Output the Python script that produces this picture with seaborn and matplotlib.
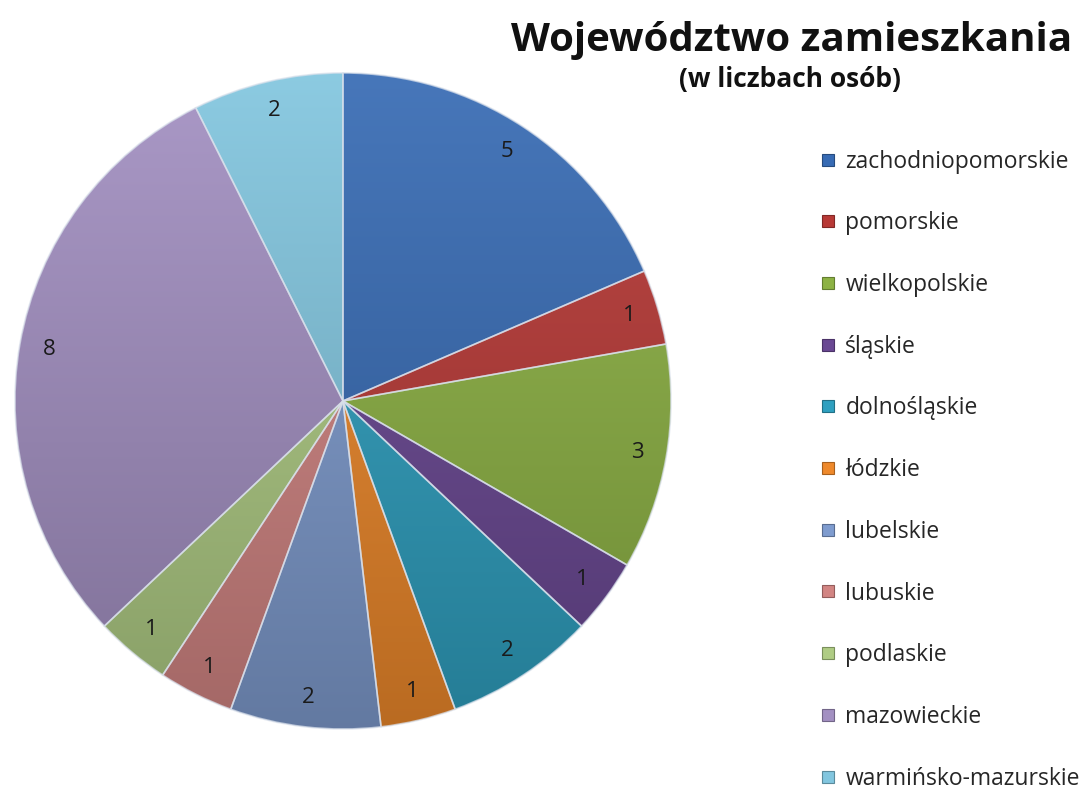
import numpy as np
import matplotlib.pyplot as plt
import matplotlib.colors as mcolors
from matplotlib.lines import Line2D
import seaborn as sns

# dane
regions = ["zachodniopomorskie", "pomorskie", "wielkopolskie", "śląskie",
           "dolnośląskie", "łódzkie", "lubelskie", "lubuskie", "podlaskie",
           "mazowieckie", "warmińsko-mazurskie"]
counts = [5, 1, 3, 1, 2, 1, 2, 1, 1, 8, 2]
colors = ["#376BB4", "#B83936", "#8DB244", "#6A4893", "#2FA0C0", "#EE892B",
          "#7F9CCF", "#D28583", "#AFCC84", "#A390C2", "#82C6DF"]

title = "Województwo zamieszkania"
subtitle = "(w liczbach osób)"

sns.set_theme(style="white")
plt.rcParams['font.family'] = ['Open Sans', 'DejaVu Sans']

fig = plt.figure(figsize=(10.84, 7.89), dpi=100)
ax = fig.add_axes([0.0129, 0.0748, 0.607, 0.834])

total = sum(counts)
wedges, _, autotexts = ax.pie(
    counts, colors=colors, startangle=90, counterclock=False,
    autopct=lambda p: f"{p * total / 100:.0f}", pctdistance=0.91,
    wedgeprops=dict(edgecolor=(0.85, 0.88, 0.92, 0.7), linewidth=1.2),
    textprops=dict(fontsize=16, color="#1a1a1a"))
ax.set_xlim(-1.003, 1.003)
ax.set_ylim(-1.003, 1.003)
ax.set_aspect('equal')

# gradient jak w Excelu - jasniej u gory, ciemniej na dole
t = np.linspace(0, 1, 256)[:, None]
for w, c in zip(wedges, colors):
    base = np.array(mcolors.to_rgb(c))
    top = base + (1 - base) * 0.08
    bottom = base * 0.78
    grad = top[None, :] * (1 - t) + bottom[None, :] * t
    img = grad[:, None, :]
    im = ax.imshow(img, extent=(-1, 1, -1, 1), origin='upper',
                   aspect='auto', zorder=0.5)
    im.set_clip_path(w)
    w.set_facecolor('none')

handles = [Line2D([], [], marker='s', linestyle='none', markersize=8.5,
                  markerfacecolor=c,
                  markeredgecolor=mcolors.to_hex(np.array(mcolors.to_rgb(c)) * 0.7),
                  markeredgewidth=0.8) for c in colors]
fig.legend(handles, regions, loc='upper left', bbox_to_anchor=(0.7365, 0.8365),
           frameon=False, fontsize=16.5, labelspacing=1.645, handletextpad=0.4,
           handlelength=0.75)

fig.text(0.730, 0.949, title, ha='center', va='center', fontsize=29,
         fontweight='bold', color="#111111")
fig.text(0.729, 0.899, subtitle, ha='center', va='center', fontsize=19,
         fontweight='bold', color="#111111")

fig.savefig("out.png", dpi=100)
